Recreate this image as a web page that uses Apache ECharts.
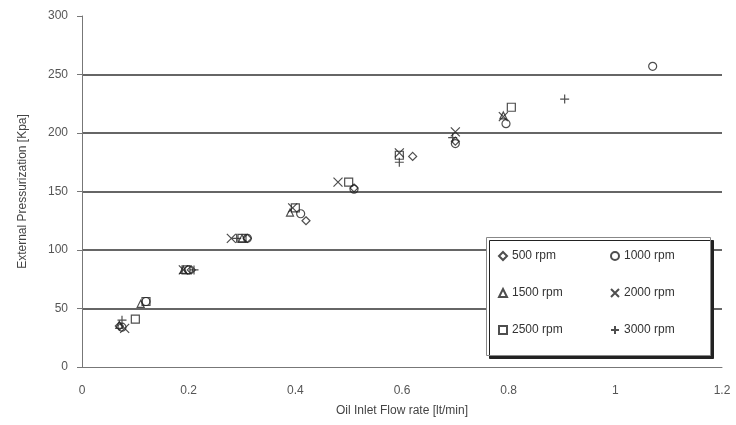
<!DOCTYPE html>
<html>
<head>
<meta charset="utf-8">
<script src="https://cdn.jsdelivr.net/npm/echarts@6/dist/echarts.min.js"></script>
<style>html,body{margin:0;padding:0;background:#fff}#c{width:736px;height:425px}</style>
</head>
<body>
<div id="c"></div>
<script>
const seriesNames = ['500 rpm','1000 rpm','1500 rpm','2000 rpm','2500 rpm','3000 rpm'];
const rpm500  = [[0.07,35],[0.205,83],[0.31,110],[0.42,125],[0.51,153],[0.62,180],[0.70,193]];
const rpm1000 = [[0.075,34],[0.12,56],[0.20,83],[0.31,110],[0.41,131],[0.51,152],[0.70,191],[0.795,208],[1.07,257]];
const rpm1500 = [[0.07,36],[0.11,54],[0.19,83],[0.30,110],[0.39,132],[0.79,215]];
const rpm2000 = [[0.08,33],[0.19,83],[0.28,110],[0.395,136],[0.48,158],[0.595,183],[0.70,201],[0.79,214]];
const rpm2500 = [[0.10,41],[0.12,56],[0.195,83],[0.30,110],[0.40,136],[0.50,158],[0.595,181],[0.805,222]];
const rpm3000 = [[0.075,40],[0.21,83],[0.29,110],[0.595,175],[0.695,196],[0.905,229]];
const xTicks = [0,0.2,0.4,0.6,0.8,1,1.2];
const yTicks = [0,50,100,150,200,250,300];

const allData = [rpm500,rpm1000,rpm1500,rpm2000,rpm2500,rpm3000];
const symbols = ['diamond','circle','triangle',
  'path://M0,0L10,10M10,0L0,10',
  'rect',
  'path://M5,0L5,10M0,5L10,5'];
const sizes = [8,8,7,9,8,9];
const font = 'Liberation Sans, Arial, sans-serif';

const chart = echarts.init(document.getElementById('c'));
const series = seriesNames.map((n,i)=>({
  name:n, type:'scatter', data:allData[i], symbol:symbols[i], symbolSize:sizes[i],
  itemStyle:{color:'rgba(255,255,255,0)', borderColor:'#222', borderWidth:1.2},
  z:5
}));
const legendCommon = {
  orient:'vertical', itemGap:25, itemWidth:8, itemHeight:8,
  textStyle:{fontFamily:font, fontSize:12, color:'#333'},
  z:6
};
chart.setOption({
  animation:false,
  backgroundColor:'#fff',
  grid:{left:82, right:14, top:16, bottom:58},
  xAxis:{
    type:'value', min:0, max:1.2, interval:0.2,
    name:'Oil Inlet Flow rate [lt/min]', nameLocation:'middle', nameGap:38,
    nameTextStyle:{fontFamily:font, fontSize:12, color:'#444'},
    axisLine:{lineStyle:{color:'#777'}},
    axisTick:{show:false},
    axisLabel:{fontFamily:font, fontSize:12, color:'#555', margin:18,
      formatter:v=>xTicks.includes(+v.toFixed(1)) ? String(+v.toFixed(1)) : ''},
    splitLine:{show:false}
  },
  yAxis:{
    type:'value', min:0, max:300, interval:50,
    name:'External Pressurization [Kpa]', nameLocation:'middle', nameGap:53,
    nameTextStyle:{fontFamily:font, fontSize:12, color:'#444'},
    axisLine:{show:true, lineStyle:{color:'#777'}},
    axisTick:{show:true, inside:false, length:5, lineStyle:{color:'#777'}},
    axisLabel:{fontFamily:font, fontSize:12, color:'#555', margin:14,
      formatter:v=>yTicks.includes(v)?String(v):''},
    splitLine:{show:true, lineStyle:{color:['rgba(0,0,0,0)','#333','#333','#333','#333','#333','rgba(0,0,0,0)'], width:1.6}}
  },
  graphic:[{
    type:'rect', z:4, left:486, top:237,
    shape:{width:224, height:118},
    style:{fill:'#fff', stroke:'#888', lineWidth:1, shadowColor:'#222', shadowOffsetX:3, shadowOffsetY:3, shadowBlur:0}
  }],
  legend:[
    Object.assign({}, legendCommon, {left:493, top:245, data:['500 rpm','1500 rpm','2500 rpm']}),
    Object.assign({}, legendCommon, {left:605, top:245, data:['1000 rpm','2000 rpm','3000 rpm']})
  ],
  series:series
});
</script>
</body>
</html>
